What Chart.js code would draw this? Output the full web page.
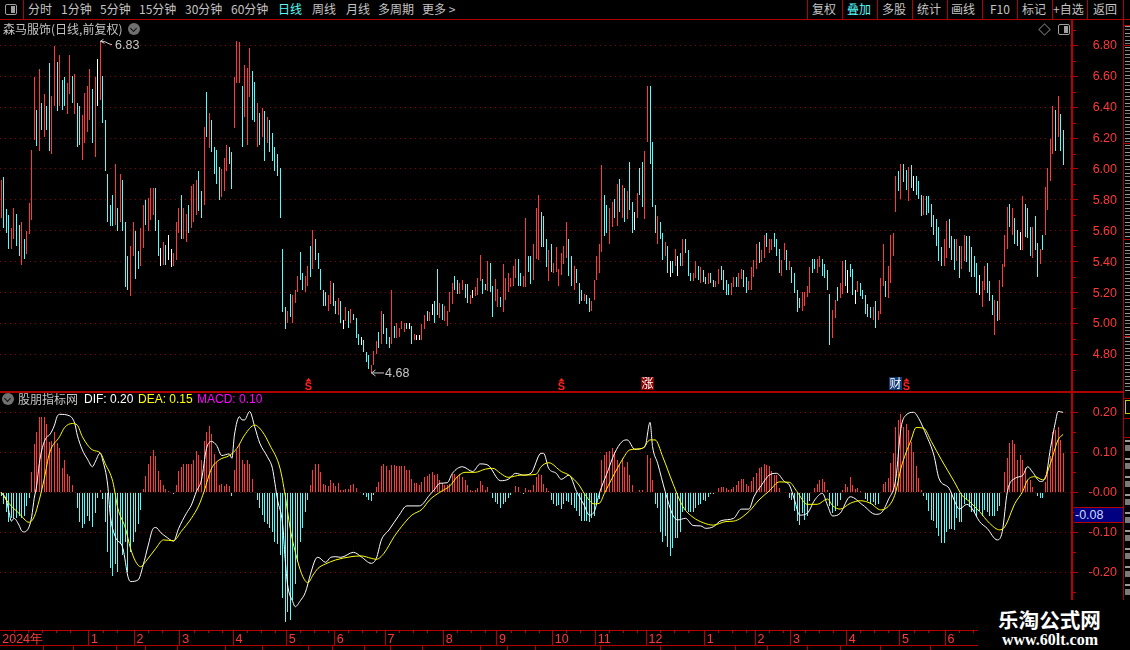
<!DOCTYPE html>
<html lang="zh">
<head>
<meta charset="utf-8">
<script src="https://cdn.jsdelivr.net/npm/chart.js@4"></script>
<style>
html,body{margin:0;padding:0;background:#000;width:1130px;height:650px;overflow:hidden}
#stage{position:absolute;left:0;top:0;width:1130px;height:650px;background:#000;overflow:hidden;font-family:"Noto Sans CJK SC","Liberation Sans",sans-serif}
canvas{position:absolute;left:0;display:block}
.t{position:absolute;white-space:nowrap;font-size:12px;line-height:14px;color:#c4c4c4}
.l{position:absolute;background:#b00000}
.lat{font-family:"Liberation Sans",sans-serif}
</style>
</head>
<body>
<div id="stage">
<canvas id="priceCanvas" width="1130" height="371" style="top:20px"></canvas>
<canvas id="macdCanvas" width="1130" height="258" style="top:392px"></canvas>
<div id="deco"></div>
</div>
<script>
const priceHigh=[
5.93,5.95,5.74,5.70,5.62,5.75,5.71,5.64,5.66,5.55,
5.60,5.78,6.12,6.595,6.38,6.65,6.43,6.485,6.41,6.685,
6.47,6.795,6.69,6.74,6.575,6.595,6.555,6.74,6.60,6.615,
6.43,6.41,6.35,6.49,6.535,6.65,6.52,6.595,6.71,6.83,
6.60,6.315,5.97,5.765,5.83,6.03,5.745,5.97,5.93,5.66,
5.435,5.50,5.655,5.60,5.47,5.62,5.77,5.80,5.81,5.88,
5.88,5.88,5.67,5.49,5.53,5.51,5.57,5.48,5.455,5.655,
5.745,5.83,5.745,5.71,5.77,5.89,5.90,5.93,5.99,5.855,
6.27,6.50,6.36,6.32,6.14,6.12,6.01,6.00,6.07,6.155,
6.14,6.11,6.595,6.83,6.82,6.535,6.67,6.655,6.78,6.635,
6.56,6.425,6.36,6.395,6.375,6.335,6.315,6.23,6.14,6.095,
6.005,5.48,5.105,5.08,5.19,5.185,5.22,5.31,5.46,5.33,
5.31,5.37,5.50,5.605,5.545,5.455,5.35,5.22,5.205,5.185,
5.275,5.26,5.145,5.165,5.145,5.025,5.105,5.08,5.095,5.06,
5.035,4.935,4.915,4.895,4.815,4.795,4.73,4.825,4.885,4.945,
5.08,5.06,4.97,4.915,5.215,4.985,5.005,4.97,5.015,5.005,
5.005,5.005,4.985,4.935,4.925,4.925,4.995,5.055,5.08,5.075,
5.125,5.145,5.35,5.135,5.125,5.115,5.08,5.205,5.26,5.31,
5.28,5.26,5.28,5.255,5.255,5.185,5.215,5.235,5.295,5.445,
5.29,5.255,5.405,5.39,5.245,5.285,5.225,5.17,5.385,5.295,
5.33,5.295,5.37,5.42,5.42,5.325,5.31,5.68,5.44,5.435,
5.515,5.75,5.83,5.72,5.695,5.545,5.475,5.515,5.39,5.495,
5.35,5.455,5.50,5.655,5.545,5.435,5.37,5.35,5.26,5.22,
5.19,5.185,5.165,5.145,5.28,5.44,5.515,6.025,5.83,5.77,
5.745,5.785,5.805,5.90,5.935,5.895,5.875,5.855,6.045,5.785,
5.72,5.845,6.005,6.045,6.115,6.535,6.535,6.175,5.765,5.695,
5.655,5.585,5.53,5.50,5.405,5.405,5.48,5.44,5.455,5.545,
5.55,5.475,5.33,5.33,5.405,5.37,5.365,5.345,5.30,5.325,
5.325,5.28,5.275,5.35,5.37,5.345,5.28,5.255,5.26,5.30,
5.30,5.325,5.35,5.345,5.30,5.275,5.365,5.41,5.515,5.53,
5.475,5.57,5.585,5.55,5.55,5.585,5.545,5.48,5.41,5.52,
5.475,5.405,5.365,5.33,5.22,5.165,5.205,5.205,5.24,5.365,
5.42,5.42,5.42,5.435,5.42,5.385,5.345,5.19,5.09,5.15,
5.235,5.26,5.405,5.41,5.345,5.385,5.35,5.22,5.275,5.26,
5.22,5.185,5.125,5.105,5.105,5.145,5.08,5.295,5.515,5.275,
5.37,5.57,5.585,5.955,5.985,6.03,6.03,5.995,6.01,6.025,
5.955,5.955,5.92,5.83,5.825,5.825,5.825,5.775,5.70,5.675,
5.625,5.495,5.545,5.665,5.675,5.565,5.545,5.55,5.50,5.50,
5.57,5.565,5.565,5.495,5.435,5.39,5.315,5.275,5.37,5.39,
5.275,5.185,5.15,5.145,5.28,5.385,5.57,5.755,5.775,5.75,
5.685,5.605,5.59,5.825,5.775,5.75,5.625,5.625,5.695,5.52,
5.48,5.57,5.885,6.005,6.195,6.41,6.38,6.47,6.355,6.25];
const priceLow=[
5.68,5.62,5.585,5.48,5.48,5.55,5.50,5.44,5.38,5.42,
5.45,5.58,5.67,6.19,6.15,6.115,6.25,6.21,6.25,6.115,
6.095,6.41,6.375,6.41,6.38,6.41,6.355,6.485,6.43,6.355,
6.14,6.155,6.06,6.17,6.24,6.315,6.17,6.08,6.41,6.445,
6.30,5.99,5.655,5.63,5.63,5.64,5.60,5.655,5.60,5.235,
5.215,5.18,5.435,5.29,5.35,5.37,5.49,5.64,5.60,5.67,
5.70,5.60,5.435,5.37,5.38,5.38,5.41,5.365,5.37,5.41,
5.585,5.55,5.55,5.53,5.585,5.62,5.655,5.70,5.73,5.68,
5.77,6.21,6.135,6.11,5.97,5.90,5.80,5.82,5.855,5.99,
6.03,5.87,6.265,6.555,6.555,6.14,6.335,6.155,6.465,6.315,
6.305,6.14,6.155,6.21,6.05,6.17,6.11,6.05,5.985,5.955,
5.68,5.075,4.965,5.005,5.04,5.005,5.135,5.205,5.28,5.22,
5.205,5.24,5.30,5.35,5.41,5.35,5.22,5.115,5.115,5.08,
5.125,5.115,5.06,5.055,5.005,4.965,5.015,4.97,5.005,5.02,
4.905,4.86,4.86,4.815,4.75,4.705,4.68,4.73,4.80,4.84,
4.865,4.935,4.865,4.84,4.865,4.905,4.905,4.915,4.965,4.945,
4.965,4.965,4.865,4.89,4.89,4.89,4.895,4.965,5.015,5.015,
5.055,5.00,5.055,5.035,5.025,5.015,4.985,5.075,5.125,5.215,
5.19,5.19,5.215,5.165,5.135,5.125,5.165,5.175,5.185,5.275,
5.19,5.215,5.21,5.205,5.045,5.145,5.11,5.11,5.075,5.155,
5.205,5.235,5.24,5.295,5.24,5.24,5.235,5.235,5.335,5.255,
5.28,5.415,5.41,5.495,5.495,5.365,5.275,5.335,5.325,5.335,
5.24,5.315,5.385,5.425,5.31,5.24,5.22,5.26,5.125,5.145,
5.145,5.125,5.075,5.08,5.15,5.28,5.325,5.46,5.565,5.585,
5.515,5.625,5.68,5.63,5.72,5.68,5.66,5.675,5.735,5.585,
5.605,5.68,5.83,5.755,5.675,6.175,6.03,5.755,5.585,5.515,
5.55,5.41,5.435,5.33,5.30,5.325,5.37,5.31,5.37,5.37,
5.455,5.31,5.275,5.275,5.295,5.28,5.26,5.27,5.255,5.255,
5.26,5.235,5.235,5.255,5.28,5.22,5.185,5.185,5.185,5.235,
5.235,5.235,5.285,5.235,5.20,5.215,5.22,5.30,5.35,5.39,
5.395,5.425,5.495,5.455,5.475,5.495,5.44,5.325,5.31,5.41,
5.345,5.345,5.26,5.20,5.075,5.10,5.08,5.115,5.17,5.20,
5.325,5.35,5.33,5.365,5.31,5.295,5.215,4.86,4.905,5.035,
5.145,5.165,5.19,5.24,5.195,5.30,5.185,5.125,5.205,5.18,
5.16,5.06,5.04,5.035,5.02,4.97,5.02,5.06,5.24,5.17,
5.165,5.26,5.44,5.72,5.855,5.805,5.915,5.865,5.79,5.875,
5.855,5.83,5.805,5.695,5.70,5.70,5.715,5.625,5.57,5.50,
5.405,5.37,5.37,5.425,5.49,5.41,5.345,5.405,5.295,5.35,
5.405,5.40,5.335,5.30,5.30,5.195,5.185,5.11,5.22,5.20,
5.145,5.055,4.925,5.015,5.02,5.235,5.365,5.48,5.625,5.575,
5.515,5.50,5.475,5.475,5.56,5.555,5.435,5.425,5.475,5.30,
5.385,5.475,5.57,5.735,5.92,6.095,6.115,6.21,6.115,6.025];
const priceTone=("RCCCRRCCRC"+"RRRRCRCRCC"+"RRCRCCRRCR"+"CCRRRRCRWR"+"CCCCCRCRCC"+"CRRCCRRCRR"+"RCCWRCWWRR"+"RCRRCRRRCC"+"RCRCCCCRRR"+"CCRRRCRRRC"+
"CRCRCRCCCC"+"CCCRCRRRCC"+"RRCRCCCCCR"+"RCCRCWRCRC"+"CCWCCCRRRC"+"RCCCRCRRRR"+"CWCRWWRRCR"+"WCCRCRRRRC"+"CRRCCRWRRR"+"CCRCCRRCRR"+
"RRRRCCRRCC"+"RRRCCCRCRR"+"RRRRCCRCCC"+"RCCRRRRRCC"+"RRCRCRCRCC"+"WRCCRRCCCR"+"CCRCWCRWCR"+"CCCRRCRCCR"+"CCRRCCCCRR"+"CRRCCRRRRC"+
"RRCRRCCCRR"+"CRCCCCRRRR"+"CCRRCCCCRR"+"CRRCWCCWRC"+"CCCCRCRRRC"+"RRRRCRCCRC"+"WCCCRCCCCC"+"CCRRCCCRCR"+"RCCCCCWRRC"+"CCRCRRRRCR"+"CCWRCCCRCC"+"RCRRRRCRCC").split("");
const macdHist=[
-.01,-.03,-.05,-.075,-.065,-.065,-.065,-.06,-.065,-.06,
-.035,-.015,.05,.12,.15,.1875,.1875,.1875,.17,.127,
.128,.15,.1225,.11,.06,.08,.047,.04,.018,0,
-.038,-.075,-.088,-.08,-.06,-.072,-.086,-.052,-.015,.006,
-.017,-.073,-.15,-.19,-.21,-.18,-.20,-.13,-.157,-.123,
-.198,-.15,-.123,-.098,-.078,-.044,.008,.04,.07,.09,
.107,.09,.053,.03,.018,.008,.003,-.002,-.003,.018,
.053,.064,.07,.072,.07,.07,.08,.103,.093,.08,
.128,.15,.166,.145,.097,.075,.018,.022,.017,.02,
.017,-.008,.056,.107,.122,.08,.07,.08,.072,.033,
0,-.02,-.04,-.056,-.073,-.08,-.09,-.10,-.125,-.13,
-.157,-.265,-.325,-.30,-.32,-.27,-.23,-.175,-.125,-.09,
-.05,-.02,.018,.056,.07,.07,.05,.022,.018,.016,
.03,.024,.017,.024,.007,.005,.008,.008,.018,.02,
.01,.001,-.001,-.006,-.012,-.018,-.021,-.007,.014,.027,
.065,.07,.065,.057,.069,.069,.067,.065,.067,.067,
.057,.057,.034,.024,.024,.018,.027,.039,.04,.047,
.05,.044,.047,.031,.024,.018,.018,.022,.045,.047,
.04,.047,.039,.031,.018,.005,.003,.007,.01,.028,
.018,.005,.014,0,-.015,-.024,-.03,-.039,-.028,-.024,
-.013,-.007,0,.016,.014,0,-.004,.01,.007,.005,
.018,.039,.047,.044,.022,.012,.004,-.018,-.028,-.034,
-.032,-.042,-.028,-.022,-.023,-.032,-.04,-.047,-.06,-.072,
-.072,-.072,-.074,-.065,-.06,-.03,-.017,.08,.093,.10,
.103,.11,.10,.08,.072,.086,.064,.077,.043,.018,
0,.002,.005,.007,.001,.093,.085,.032,-.028,-.04,
-.098,-.123,-.11,-.136,-.16,-.14,-.115,-.115,-.098,-.048,
-.044,-.048,-.048,-.048,-.04,-.032,-.028,-.02,-.022,-.011,
-.004,-.003,.002,.01,.013,.013,.01,.005,.008,.014,
.018,.028,.033,.034,.02,.017,.028,.039,.0475,.06,
.064,.07,.068,.067,.053,.043,.043,.01,.001,0,
-.002,-.013,-.02,-.047,-.072,-.082,-.052,-.07,-.06,-.022,
0,.01,.022,.03,.033,.025,.006,-.033,-.052,-.047,
-.033,-.02,.006,.02,.014,.0375,.018,.008,.012,.003,
0,-.017,-.022,-.03,-.025,-.032,-.028,0,.02,.025,
.035,.0725,.0975,.164,.18,.195,.164,.17,.156,.127,
.10,.066,.037,.005,-.008,-.02,-.047,-.07,-.072,-.088,
-.11,-.1275,-.1275,-.098,-.092,-.092,-.094,-.065,-.073,-.075,
-.03,-.02,-.036,-.048,-.052,-.06,-.047,-.06,-.044,-.048,
-.06,-.058,-.06,-.047,-.033,0,.05,.0865,.1225,.13,
.12,.08,.093,.08,.062,.03,.03,.013,.002,-.008,
-.015,-.015,.027,.062,.09,.152,.156,.164,.13,.0975];
const difAt=[0,2,3,4,5,7,8,9,11,12,13,14,15,16,17,18,19,21,22,23,27,29,30,32,34,36,37,39,40,42,43,45,48,50,51,54,56,58,60,61,63,65,68,70,73,75,77,79,81,83,85,87,90,91,92,94,95,96,98,100,102,105,107,108,109,111,112,113,115,116,118,120,122,124,125,128,130,132,134,139,142,146,148,150,153,157,160,165,169,171,173,176,178,182,186,189,192,197,200,203,206,209,213,214,216,219,221,224,227,230,232,234,236,239,242,245,247,250,254,256,257,259,262,265,267,270,273,276,278,281,284,289,292,295,297,300,303,306,309,311,313,315,318,321,324,326,328,331,335,340,345,347,350,353,355,357,360,362,365,368,370,374,376,378,381,383,386,389,393,395,397,400,403,405,407,410,412,414,416,417,419];
const difVal=[0,-.019,-.047,-.072,-.065,-.082,-.096,-.099,-.086,-.061,-.015,.018,.072,.106,.127,.139,.143,.168,.189,.195,.191,.172,.143,.106,.083,.064,.075,.098,.081,.018,-.057,-.111,-.14,-.211,-.223,-.219,-.182,-.132,-.09,-.088,-.101,-.111,-.122,-.09,-.053,-.032,.002,.031,.11,.127,.117,.092,.096,.085,.143,.189,.181,.181,.202,.164,.123,.089,.06,.022,-.019,-.078,-.165,-.232,-.273,-.286,-.271,-.25,-.205,-.167,-.1625,-.175,-.1625,-.161,-.1625,-.15,-.161,-.1775,-.165,-.119,-.094,-.057,-.034,-.034,-.007,.0075,.0225,.024,.0475,.064,.052,.071,.068,.029,.0325,.0475,.043,.0475,.0975,.0975,.06,.0475,.0325,.043,.002,-.032,-.057,-.048,-.0025,.0475,.0975,.127,.131,.1075,.114,.175,.114,.0725,.0017,-.057,-.069,-.065,-.083,-.084,-.09,-.086,-.071,-.065,-.042,-.042,-.011,.018,.043,.0475,.027,.018,-.019,-.057,-.0525,-.019,-.0025,-.032,-.059,-.0525,-.011,-.032,-.055,-.0525,-.019,.035,.16,.193,.2,.185,.143,.093,.035,.01,-.019,-.042,-.03,-.04,-.073,-.09,-.119,-.098,.0017,.035,.042,.064,.05,.027,.035,.11,.177,.202,.2];
const deaAt=[0,3,7,11,13,15,17,19,23,25,28,30,32,36,39,41,44,46,49,51,53,55,57,61,64,68,71,75,78,80,83,86,90,93,96,100,103,106,110,112,114,117,119,121,123,125,128,132,138,142,146,148,151,155,159,162,166,169,173,177,180,183,187,191,194,197,200,205,211,213,216,221,224,228,230,234,236,238,241,245,248,253,256,258,261,265,269,273,277,281,286,289,295,299,303,307,311,314,318,322,326,328,331,335,339,343,347,351,353,355,359,361,364,367,371,376,379,382,386,390,394,396,400,403,405,408,411,414,417,419];
const deaVal=[0,-.0275,-.0525,-.075,-.061,-.019,.035,.0975,.139,.162,.172,.168,.139,.106,.099,.072,.027,-.04,-.09,-.14,-.173,-.186,-.173,-.14,-.119,-.121,-.098,-.065,-.032,.002,.06,.081,.092,.11,.143,.168,.152,.118,.06,-.0067,-.09,-.173,-.211,-.226,-.207,-.19,-.179,-.169,-.161,-.159,-.165,-.1675,-.1525,-.111,-.0775,-.057,-.0425,-.019,0,.016,.039,.05,.05,.058,.06,.0475,.0375,.043,.045,.064,.074,.052,.043,.018,-.0025,-.029,-.0275,-.0025,.035,.081,.106,.11,.131,.131,.089,.0225,-.036,-.0625,-.076,-.082,-.073,-.072,-.048,-.019,.0033,.026,.025,.0017,-.03,-.03,-.0167,-.033,-.042,-.0275,-.021,-.0275,-.044,-.0275,.0017,.06,.131,.162,.16,.127,.081,.027,-.0067,-.023,-.048,-.0775,-.094,-.086,-.0275,.0017,.031,.039,.031,.0725,.131,.145];
const monthStart=[0,35,53,71,92,113,132,152,175,196,218,235,255,278,298,312,334,355,373];
const monthText=["2024年","1","2","3","4","5","6","7","8","9","10","11","12","1","2","3","4","5","6"];
const priceTicks=[6.8,6.6,6.4,6.2,6.0,5.8,5.6,5.4,5.2,5.0,4.8];
const priceTickText=["6.80","6.60","6.40","6.20","6.00","5.80","5.60","5.40","5.20","5.00","4.80"];
const priceMinorTicks=[6.9,6.7,6.5,6.3,6.1,5.9,5.7,5.5,5.3,5.1,4.9,4.7];
const macdTicks=[0.2,0.1,0,-0.1,-0.2];
const macdTickText=["0.20","0.10","-0.00","-0.10","-0.20"];
const macdMinorTicks=[0.15,0.05,-0.05,-0.15,-0.25];
const signalS=[121,221,357];
const signalRise=[255];
const signalCai=[353];

const SLOTS=423, RED="#ff3838", CYAN="#54fcfc", AXIS="#b80000", GRID="#8c0000";
const labels=Array.from({length:SLOTS},(_,i)=>i);
const toneColor={R:RED,C:CYAN,W:"#ffffff"};
const monthMap=new Map(monthStart.map((m,k)=>[m,monthText[k]]));
function knots(at,val){const a=new Array(SLOTS).fill(null);at.forEach((k,j)=>{a[k]=val[j]});return a}

/* keep the 1px sticks crisp: snap each bar to the pixel grid when it is drawn */
const Bar=Chart.registry.getElement('bar'), barDraw=Bar.prototype.draw;
Bar.prototype.draw=function(ctx){
  const x=this.x,y=this.y,b=this.base;
  this.x=Math.floor(x)+.5;this.y=Math.round(y);this.base=Math.round(b);
  barDraw.call(this,ctx);
  this.x=x;this.y=y;this.base=b;
};
const sized=w=>s=>{s.width=w;s.paddingTop=0;s.paddingBottom=0};
const common={responsive:false,animation:false,devicePixelRatio:1,events:[],layout:{padding:0},plugins:{legend:{display:false},tooltip:{enabled:false}}};
const yBase=ticksArr=>({position:'right',afterFit:sized(58),
  afterBuildTicks:s=>{s.ticks=ticksArr.map(v=>({value:v}))},
  border:{color:AXIS,width:2,dash:[1,4]},
  grid:{color:GRID,lineWidth:1,tickColor:AXIS,tickLength:6,drawTicks:true,tickBorderDash:[]},
  ticks:{display:false}});

/* short half-step marks and right-aligned value labels on the right axis */
function axisMarks(chart,minor,major,text){
  const s=chart.scales.y,c=chart.ctx;c.save();c.fillStyle=AXIS;
  minor.forEach(v=>{const y=Math.round(s.getPixelForValue(v));c.fillRect(1073,y,3,1)});
  c.fillStyle=RED;c.font='12.5px "Liberation Sans"';c.textAlign='right';c.textBaseline='middle';
  major.forEach((v,k)=>c.fillText(text[k],1117,Math.round(s.getPixelForValue(v))+1));
  c.restore();
}
const pricePlugin={id:'priceMarks',afterDraw(chart){
  const c=chart.ctx,x=chart.scales.x,y=chart.scales.y;
  axisMarks(chart,priceMinorTicks,priceTicks,priceTickText);
  c.save();
  c.font='12.5px "Liberation Sans"';c.fillStyle='#c8c8c8';c.strokeStyle='#c8c8c8';c.lineWidth=1;c.textBaseline='middle';c.textAlign='left';
  /* highest and lowest price call-outs */
  const hiI=priceHigh.indexOf(Math.max(...priceHigh)),loI=priceLow.indexOf(Math.min(...priceLow));
  const hx=Math.floor(x.getPixelForValue(hiI)),hy=y.getPixelForValue(priceHigh[hiI]);
  c.beginPath();c.moveTo(hx+.5,hy+.5);c.lineTo(hx+4.5,hy+2.5);c.moveTo(hx+.5,hy+.5);c.lineTo(hx+3.5,hy-1.5);c.moveTo(hx+.5,hy+.5);c.lineTo(hx+5,hy+1);c.lineTo(hx+9,hy+3);c.lineTo(hx+12,hy+4);c.stroke();
  c.fillText(priceHigh[hiI].toFixed(2),hx+15,hy+5);
  const lx=Math.floor(x.getPixelForValue(loI)),ly=y.getPixelForValue(priceLow[loI])-.5;
  c.beginPath();c.moveTo(lx+.5,ly+.5);c.lineTo(lx+13,ly+.5);c.moveTo(lx+.5,ly+.5);c.lineTo(lx+4.5,ly-2.5);c.moveTo(lx+.5,ly+.5);c.lineTo(lx+4.5,ly+3.5);c.stroke();
  c.fillText(priceLow[loI].toFixed(2),lx+14,ly+1);
  /* event markers along the bottom of the price pane */
  c.textAlign='center';c.textBaseline='alphabetic';
  signalS.forEach(i=>{const p=Math.round(x.getPixelForValue(i))+1;
    c.fillStyle='#ff2020';c.beginPath();c.moveTo(p-.5,358);c.lineTo(p-3.5,361.5);c.lineTo(p+2.5,361.5);c.closePath();c.fill();
    c.font='bold 11px "Liberation Sans"';c.fillText('S',p-.5,370)});
  const box=(i,bg,txt)=>{const p=Math.round(x.getPixelForValue(i));c.fillStyle=bg;c.fillRect(p-7,357,13,13);
    c.fillStyle='#ffffff';c.font='12px "Noto Sans CJK SC"';c.fillText(txt,p-.5,368)};
  signalRise.forEach(i=>box(i,'#8c0000','涨'));
  signalCai.forEach(i=>box(i,'#103a78','财'));
  c.restore();
}};
const macdPlugin={id:'macdMarks',afterDraw(chart){
  const c=chart.ctx,x=chart.scales.x;
  axisMarks(chart,macdMinorTicks,macdTicks,macdTickText);
  c.save();c.fillStyle=AXIS;
  /* short weekly marks on the date strip */
  monthStart.forEach((m,k)=>{const end=k+1<monthStart.length?monthStart[k+1]:m+18;
    for(let d=m+5.5;d<end-2;d+=5.5){const p=Math.round(x.getPixelForValue(d)-1.27);c.fillRect(p,238,1,3)}});
  c.restore();
}};

new Chart(document.getElementById('priceCanvas'),{type:'bar',
  data:{labels,datasets:[{data:priceHigh.map((h,i)=>[priceLow[i],h]),
    backgroundColor:priceHigh.map((_,i)=>toneColor[priceTone[i]]),barThickness:1,inflateAmount:0,borderWidth:0}]},
  options:{...common,scales:{
    x:{display:false},
    y:{...yBase(priceTicks),min:4.5631,max:6.9644}}},
  plugins:[pricePlugin]});

new Chart(document.getElementById('macdCanvas'),{type:'bar',
  data:{labels,datasets:[
    {type:'line',label:'DIF',data:knots(difAt,difVal),borderColor:'#ffffff',borderWidth:1,pointRadius:0,spanGaps:true,cubicInterpolationMode:'monotone',order:1},
    {type:'line',label:'DEA',data:knots(deaAt,deaVal),borderColor:'#ffff00',borderWidth:1,pointRadius:0,spanGaps:true,cubicInterpolationMode:'monotone',order:0},
    {label:'MACD',data:macdHist,backgroundColor:macdHist.map(v=>v>=0?RED:CYAN),barThickness:1,inflateAmount:0,borderWidth:0,order:2}]},
  options:{...common,scales:{
    x:{afterFit:s=>{s.height=20;s.paddingLeft=0;s.paddingRight=0},border:{color:AXIS,width:1},
      grid:{drawOnChartArea:false,drawTicks:true,tickLength:15,tickColor:c=>monthMap.has(c.index)&&c.index>0?AXIS:'transparent',offset:true},
      ticks:{autoSkip:false,maxRotation:0,minRotation:0,align:'start',padding:-13,labelOffset:1,color:RED,font:{family:'"Liberation Sans"',size:12.5},
        callback:(v,i)=>monthMap.get(i)||''}},
    y:{...yBase(macdTicks),min:-0.3442,max:0.2508}}},
  plugins:[macdPlugin]});

/* page furniture: toolbar, headers, frame lines, read-out box, watermark */
const toolbarLeft=[["分时",28],["1分钟",61],["5分钟",100],["15分钟",139],["30分钟",185],["60分钟",231],["日线",278,"#54fcfc"],["周线",312],["月线",346],["多周期",378],["更多 >",422]];
const toolbarRight=[["复权",812],["叠加",847,"#54fcfc"],["多股",882],["统计",917],["画线",951],["F10",990],["标记",1022],["+自选",1053],["返回",1093]];
const toolbarSeps=[23,807,842,877,912,947,982,1017,1052,1087,1123];
const deco=document.getElementById('deco');
const add=(cls,css,txt)=>{const d=document.createElement('div');d.className=cls;d.style.cssText=css;if(txt)d.textContent=txt;deco.appendChild(d);return d};
[...toolbarLeft,...toolbarRight].forEach(([t,x,col])=>add('t',`left:${x}px;top:2px;${col?'color:'+col:''}`,t));
toolbarSeps.forEach(x=>add('l',`left:${x}px;top:0;width:1px;height:19px`));
add('l','left:0;top:19px;width:1130px;height:1px');
add('l','left:0;top:391px;width:1124px;height:2px');
add('l','left:1123px;top:19px;width:1px;height:590px');
add('l','left:0;top:645px;width:978px;height:1px');
[43,73,116,145,177,225,262,308,332,364,390,422,480,507,535,600,660,735,767,807,840,880,930].forEach(x=>add('l',`left:${x}px;top:646px;width:1px;height:4px`));
/* toggle icons */
const icon=(x,y)=>{add('','position:absolute;box-sizing:border-box;left:'+x+'px;top:'+y+'px;width:12px;height:11px;border:1px solid #a0a0a0;border-radius:2px');add('','position:absolute;left:'+(x+6)+'px;top:'+(y+2)+'px;width:4px;height:7px;background:#a0a0a0')};
icon(5,4);icon(1058,24);
add('','position:absolute;left:1040px;top:25px;width:7px;height:7px;border:1px solid #6e6e6e;transform:rotate(45deg)');
const chevron=(x,y)=>{add('',`position:absolute;left:${x-6}px;top:${y-6}px;width:12px;height:12px;border-radius:6px;background:#707070`);
  add('',`position:absolute;left:${x-3}px;top:${y-3.5}px;width:4px;height:4px;border-right:1.5px solid #111;border-bottom:1.5px solid #111;transform:rotate(45deg)`)};
chevron(134,29);chevron(8,399);
add('t','left:3px;top:22px','森马服饰(日线,前复权)');
add('t','left:18px;top:392px','股朋指标网');
add('t lat','left:84px;top:392px;color:#fff','DIF: 0.20');
add('t lat','left:138px;top:392px;color:#ffff00','DEA: 0.15');
add('t lat','left:197px;top:392px;color:#ff00ff','MACD: 0.10');
/* cursor read-out */
add('','position:absolute;left:1074px;top:507px;width:49px;height:16px;background:#000080;border-top:1px solid #b80000;border-bottom:1px solid #b80000;box-sizing:border-box');
add('t lat','left:1075px;top:508px;color:#d0d8ff;font-size:12.5px','-0.08');
/* clipped neighbouring panel at the right edge */
add('','position:absolute;left:1125px;top:26px;width:5px;height:365px;background:repeating-linear-gradient(180deg,#9a9a9a 0 1px,#000 1px 3px,#7a7a7a 3px 4px,#000 4px 7px)');
add('','position:absolute;left:1125px;top:440px;width:5px;height:160px;background:repeating-linear-gradient(180deg,#9a9a9a 0 2px,#000 2px 5px,#7a7a7a 5px 11px,#000 11px 18px)');
add('','position:absolute;box-sizing:border-box;left:1125px;top:400px;width:8px;height:14px;border:1px solid #c8c800');
[25,45,143,239,336,398,418,437].forEach(y=>add('l',`left:1124px;top:${y}px;width:6px;height:1px`));
/* watermark */
add('','position:absolute;left:978px;top:600px;width:152px;height:50px;background:#000');
add('t','left:998px;top:606px;font-size:20.6px;line-height:26px;font-weight:700;color:#fff','乐淘公式网');
add('t','left:1002px;top:631px;font-size:16px;line-height:18px;font-weight:700;color:#fff','www.60lt.com').style.fontFamily='"Liberation Serif",serif';
</script>
</body>
</html>
